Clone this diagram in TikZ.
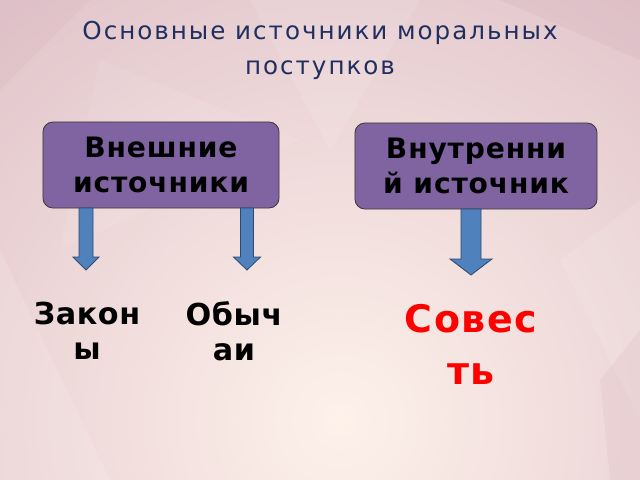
\documentclass[tikz,border=0pt]{standalone}
\usepackage{fontspec}
\setmainfont{DejaVu Sans}
\usetikzlibrary{calc}
\definecolor{bgin}{HTML}{FDF1EA}
\definecolor{bgout}{HTML}{C99DAF}
\definecolor{boxfill}{HTML}{8064A2}
\definecolor{boxline}{HTML}{3A3A3A}
\definecolor{arrfill}{HTML}{4F81BD}
\definecolor{arrline}{HTML}{2E4A70}
\definecolor{titlecol}{HTML}{1F2F5F}
\newcommand{\blockarrow}[5]{%
  \path[blockarr] ($(#1)+(-#4,0)$) -- ($(#2)+(-#4,0)$) -- ($(#2)+(-#5,0)$) -- (#3)
    -- ($(#2)+(#5,0)$) -- ($(#2)+(#4,0)$) -- ($(#1)+(#4,0)$) -- cycle;}
\begin{document}
\begin{tikzpicture}[x=0.025cm,y=-0.025cm,
  srcbox/.style={draw=boxline, line width=0.6pt, fill=boxfill, rounded corners=0.25cm,
    minimum height=2.15cm, align=center, inner sep=0pt,
    font=\fontsize{20}{24.8}\selectfont\bfseries\addfontfeature{LetterSpace=3}},
  blockarr/.style={draw=arrline, line width=0.6pt, fill=arrfill},
  leaf/.style={align=center, inner sep=0pt, text=black,
    font=\fontsize{21.5}{24.8}\selectfont\bfseries\addfontfeature{LetterSpace=2}},
  redleaf/.style={align=center, inner sep=0pt, text=red,
    font=\fontsize{27}{37}\selectfont\bfseries\addfontfeature{LetterSpace=4}},
  titlestyle/.style={align=center, inner sep=0pt, text=titlecol,
    font=\fontsize{17.5}{24.8}\selectfont\addfontfeature{LetterSpace=8}}]
\useasboundingbox (0,0) rectangle (640,480);
\begin{scope}
\clip (0,0) rectangle (640,480);
\shade[inner color=bgin, outer color=bgout] (-660,-580) rectangle (1340,1420);
\fill[white, opacity=0.12] (0,250) -- (110,480) -- (0,480) -- cycle;
\fill[white, opacity=0.10] (250,0) -- (420,0) -- (330,150) -- cycle;
\fill[bgout, opacity=0.15] (500,0) -- (640,0) -- (640,60) -- cycle;
\fill[white, opacity=0.10] (560,260) -- (640,200) -- (640,420) -- cycle;
\fill[bgout, opacity=0.12] (600,380) -- (640,330) -- (640,480) -- (610,480) -- cycle;
\fill[white, opacity=0.08] (100,60) -- (300,140) -- (60,250) -- cycle;
\fill[bgout, opacity=0.10] (0,90) -- (90,0) -- (0,0) -- cycle;
\end{scope}
\node[titlestyle] (title) at (320,50) {Основные источники моральных\\поступков};
\node[srcbox, minimum width=5.9cm] (b1) at (161,165) {Внешние\\источники};
\node[srcbox, minimum width=6.05cm] (b2) at (476,166) {Внутренни\\й источник};
\node[leaf] (t1) at (87,331) {Закон\\ы};
\node[leaf] (t2) at (234,331) {Обыч\\аи};
\node[redleaf] (t3) at (471,344) {Совес\\ть};
\coordinate (a1s) at (86,208); \coordinate (a1h) at (86,257); \coordinate (a1t) at (86,270);
\coordinate (a2s) at (247,208); \coordinate (a2h) at (247,257); \coordinate (a2t) at (247,270);
\coordinate (a3s) at (471,209); \coordinate (a3h) at (471,259); \coordinate (a3t) at (471,275);
\blockarrow{a1s}{a1h}{a1t}{7}{13}
\blockarrow{a2s}{a2h}{a2t}{6.5}{13.5}
\blockarrow{a3s}{a3h}{a3t}{10}{21}
\end{tikzpicture}
\end{document}
